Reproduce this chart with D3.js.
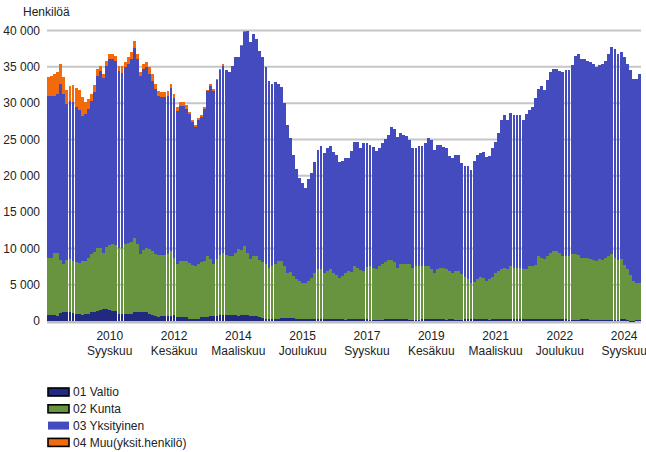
<!doctype html>
<html>
  <head>
    <meta charset="utf-8" />
    <title>Henkilöä</title>
    <script src="https://cdn.jsdelivr.net/npm/d3@7"></script>
    <style>
      html,
      body {
        margin: 0;
        background: #fff;
      }
      text {
        font-family: "Liberation Sans", Arial, sans-serif;
        font-size: 12px;
        fill: #222;
      }
    </style>
  </head>
  <body>
    <svg id="chart" width="646" height="452"></svg>
    <script>
      // Monthly data, January 2009 .. February 2025
      const monthNames = ["Tammikuu", "Helmikuu", "Maaliskuu", "Huhtikuu", "Toukokuu", "Kesäkuu",
        "Heinäkuu", "Elokuu", "Syyskuu", "Lokakuu", "Marraskuu", "Joulukuu"];
      const firstYear = 2009;
      const monthCount = 194;

      const valtio = [
        830, 830, 760, 690, 1100, 1240, 1240, 1240, 1100, 960, 960, 830,
        960, 960, 1240, 1240, 1380, 1510, 1650, 1650, 1510, 1380, 1380, 960,
        960, 960, 960, 960, 1240, 1240, 1240, 1240, 1240, 960, 830, 690,
        600, 690, 690, 690, 690, 830, 600, 600, 600, 600, 280, 280,
        280, 280, 550, 550, 550, 690, 690, 690, 830, 830, 760, 830,
        830, 830, 690, 830, 830, 760, 690, 690, 690, 600, 410, 280,
        280, 280, 280, 330, 410, 410, 410, 410, 410, 280, 280, 280,
        280, 280, 280, 280, 280, 280, 280, 280, 280, 280, 280, 280,
        280, 140, 280, 280, 280, 280, 280, 280, 280, 200, 140, 140,
        140, 140, 280, 280, 280, 280, 280, 280, 280, 280, 140, 140,
        140, 140, 280, 280, 280, 280, 280, 280, 280, 280, 140, 280,
        280, 140, 140, 140, 280, 280, 280, 280, 280, 280, 280, 280,
        140, 280, 280, 280, 280, 280, 280, 280, 280, 280, 280, 280,
        280, 280, 280, 280, 280, 280, 280, 280, 280, 280, 280, 280,
        280, 280, 200, 200, 200, 200, 280, 280, 280, 200, 200, 200,
        200, 200, 200, 200, 200, 200, 200, 280, 280, 200, -200, -200,
        200, 200
      ];
      const kunta = [
        7850, 7850, 8600, 8670, 7300, 6610, 7160, 7300, 7160, 7160, 7030, 7430,
        7300, 7720, 7990, 8260, 8670, 8540, 7710, 8540, 8960, 9220, 9090, 9090,
        9090, 9640, 9780, 9920, 10190, 9360, 7990, 8540, 8810, 8950, 8810, 8540,
        8490, 8400, 8400, 8540, 8950, 7850, 7250, 7660, 7660, 7660, 7710, 7430,
        7290, 7570, 7570, 7710, 8400, 7850, 7160, 7850, 8260, 8530, 8330, 8120,
        8120, 8530, 9220, 8950, 9500, 8600, 7850, 8260, 8260, 7800, 7710, 7570,
        7020, 7290, 7570, 7930, 7850, 7160, 6200, 6340, 5790, 5500, 5230, 4950,
        4950, 5220, 5640, 6330, 6880, 6880, 6330, 6610, 6880, 6330, 6050, 5640,
        5920, 6470, 6610, 6470, 7290, 7020, 6750, 6610, 7160, 7370, 7160, 7020,
        7430, 7710, 7840, 8120, 8120, 7840, 7020, 7570, 7570, 7570, 7710, 7160,
        7430, 7430, 7290, 7290, 7290, 6880, 6330, 6880, 7020, 7020, 7020, 6610,
        6330, 6750, 6750, 6330, 5780, 5500, 4950, 5090, 5500, 5780, 5640, 5230,
        5640, 5780, 6330, 6610, 6880, 7020, 6880, 7290, 7020, 7020, 7020, 6880,
        6880, 7290, 7290, 7430, 8670, 8400, 8260, 8670, 9080, 9360, 9360, 9080,
        8670, 8670, 8750, 9030, 9030, 8890, 8400, 8400, 8400, 8340, 8200, 8060,
        8340, 8200, 8480, 8750, 9030, 8480, 8200, 8260, 7430, 6960, 6330, 5510,
        5030, 5030
      ];
      const yksityinen = [
        22300, 22300, 21620, 21900, 24240, 23410, 21480, 21750, 21900, 21350, 21060, 19970,
        20240, 20510, 21060, 22030, 23690, 24380, 24100, 24920, 25610, 25480, 25330, 24380,
        24100, 24380, 24650, 25200, 26160, 25480, 24510, 24920, 24930, 24100, 23410, 22720,
        21890, 21750, 21750, 21750, 22440, 22030, 21070, 21350, 21350, 20930, 20510, 19690,
        19140, 19830, 19970, 20930, 22720, 23820, 23820, 24650, 25470, 25750, 25470, 25340,
        26160, 26990, 26440, 28090, 29470, 30570, 29880, 30570, 29880, 28780, 28230, 27130,
        25750, 25070, 25060, 24380, 23960, 22450, 20380, 18450, 16660, 15150, 14180, 13770,
        13080, 14050, 14460, 15280, 16390, 16940, 16520, 16930, 16940, 16660, 16530, 15970,
        15830, 15840, 15560, 16660, 17080, 17350, 16790, 17620, 17070, 16670, 16660, 16250,
        16250, 16660, 16940, 17210, 18310, 18320, 18040, 18040, 17760, 17620, 17070, 16520,
        16250, 16530, 16530, 16940, 17630, 17760, 16940, 17080, 16940, 16660, 16660, 15830,
        15840, 15970, 15970, 15290, 15280, 15560, 15560, 16660, 17080, 17070, 17350, 17070,
        16940, 17760, 18040, 19000, 20520, 21070, 20520, 21070, 21070, 21070, 21070, 20520,
        21340, 21480, 21900, 23000, 23000, 23680, 23270, 24240, 24930, 25060, 25060, 25070,
        25340, 25610, 25610, 26020, 27260, 27680, 27400, 27400, 27120, 27120, 26990, 26720,
        26710, 26990, 27120, 27820, 28500, 28770, 28370, 28500, 28640, 28230, 28230, 27810,
        28090, 28780
      ];
      const muu = [
        2620, 2760, 3030, 3030, 2750, 2340, 1930, 2070, 2340, 2610, 2760, 2610,
        1660, 1380, 970, 970, 960, 680, 550, 690, 690, 690, 690, 680,
        960, 680, 960, 960, 970, 690, 550, 690, 680, 970, 960, 690,
        690, 690, 690, 690, 560, 550, 550, 550, 550, 550, 280, 280,
        280, 270, 280, 280, 140, 280, 280, 130, 140, 280, 0, 0,
        0, 0, 0, 140, 130, 0, 0, 0, 0, 0, 0, 0,
        0, 0, 0, 0, 0, 0, 0, 0, 0, 0, 0, 0,
        0, 0, 0, 0, 0, 0, 0, 0, 0, 0, 0, 0,
        0, 0, 0, 0, 0, 0, 0, 0, 0, 0, 0, 0,
        0, 0, 0, 0, 0, 0, 0, 0, 0, 0, 0, 0,
        0, 0, 0, 0, 0, 0, 0, 0, 0, 0, 0, 0,
        0, 0, 0, 0, 0, 0, 0, 0, 0, 0, 0, 0,
        0, 0, 0, 0, 0, 0, 0, 0, 0, 0, 0, 0,
        0, 0, 0, 0, 0, 0, 0, 0, 0, 0, 0, 0,
        0, 0, 0, 0, 0, 0, 0, 0, 0, 0, 0, 0,
        0, 0, 0, 0, 0, 0, 0, 0, 0, 0, 0, 0,
        0, 0
      ];

      const seriesNames = ["01 Valtio", "02 Kunta", "03 Yksityinen", "04 Muu(yksit.henkilö)"];
      const seriesColors = ["#212a7f", "#68933f", "#444bbf", "#f26a0c"];
      const tickMonths = ["2010-09", "2012-06", "2014-03", "2015-12", "2017-09",
        "2019-06", "2021-03", "2022-12", "2024-09"];
      const yTicks = [0, 5000, 10000, 15000, 20000, 25000, 30000, 35000, 40000];

      // month keys like "2009-01"
      const months = [];
      for (let i = 0; i < monthCount; i++) {
        const yr = firstYear + Math.floor(i / 12);
        const m = (i % 12) + 1;
        months.push(yr + "-" + String(m).padStart(2, "0"));
      }

      const rows = months.map((key, i) => ({
        key: key,
        v: valtio[i],
        k: kunta[i],
        y: yksityinen[i],
        m: muu[i],
      }));

      const stacked = d3
        .stack()
        .keys(["v", "k", "y", "m"])
        .offset(d3.stackOffsetDiverging)(rows);

      const svg = d3.select("#chart");

      const x = d3
        .scaleBand()
        .domain(months)
        .range([47, 641])
        .paddingInner(0.07)
        .paddingOuter(0.04);

      const y = d3.scaleLinear().domain([0, 40000]).range([321, 30.5]);

      const fmt = d3.formatLocale({
        decimal: ",",
        thousands: "\u00a0",
        grouping: [3],
        currency: ["", " €"],
      }).format(",");

      // gridlines behind the bars
      svg
        .append("g")
        .selectAll("line")
        .data(yTicks.filter((d) => d > 0))
        .join("line")
        .attr("x1", 47)
        .attr("x2", 641)
        .attr("y1", (d) => y(d))
        .attr("y2", (d) => y(d))
        .attr("stroke", "#c6c6c6")
        .attr("stroke-width", 2);

      // baseline
      svg
        .append("line")
        .attr("x1", 47)
        .attr("x2", 641)
        .attr("y1", y(0) + 1.2)
        .attr("y2", y(0) + 1.2)
        .attr("stroke", "#bdbdbd")
        .attr("stroke-width", 2.4);

      // stacked bars
      svg
        .append("g")
        .attr("shape-rendering", "crispEdges")
        .selectAll("g")
        .data(stacked)
        .join("g")
        .attr("fill", (d, i) => seriesColors[i])
        .selectAll("rect")
        .data((d) => d.filter((p) => p[1] !== p[0]))
        .join("rect")
        .attr("x", (d) => x(d.data.key))
        .attr("width", x.bandwidth())
        .attr("y", (d) => y(Math.max(d[0], d[1])))
        .attr("height", (d) => Math.abs(y(d[0]) - y(d[1])));

      // y labels
      svg
        .append("g")
        .selectAll("text")
        .data(yTicks)
        .join("text")
        .attr("x", 40)
        .attr("y", (d) => y(d))
        .attr("dy", "0.36em")
        .attr("text-anchor", "end")
        .text((d) => fmt(d));

      svg.append("text").attr("x", 23).attr("y", 15.5).text("Henkilöä");

      // x labels: year and month name
      const xl = svg
        .append("g")
        .selectAll("text")
        .data(tickMonths)
        .join("text")
        .attr("text-anchor", "middle")
        .attr("transform", (d) => `translate(${x(d) + x.bandwidth() / 2},0)`);
      xl.append("tspan")
        .attr("x", 0)
        .attr("y", 339.5)
        .text((d) => d.slice(0, 4));
      xl.append("tspan")
        .attr("x", 0)
        .attr("y", 354.5)
        .text((d) => monthNames[+d.slice(5) - 1]);

      // legend
      const legend = svg
        .append("g")
        .selectAll("g")
        .data(seriesNames)
        .join("g")
        .attr("transform", (d, i) => `translate(48,${392 + i * 16.8})`);
      legend
        .append("rect")
        .attr("x", 0)
        .attr("y", -4)
        .attr("width", 21)
        .attr("height", 8)
        .attr("fill", (d, i) => seriesColors[i])
        .attr("stroke", (d, i) => (i === 2 ? "none" : "#000"))
        .attr("stroke-width", 1.6);
      legend
        .append("text")
        .attr("x", 25)
        .attr("y", 0)
        .attr("dy", "0.36em")
        .text((d) => d);
    </script>
  </body>
</html>
